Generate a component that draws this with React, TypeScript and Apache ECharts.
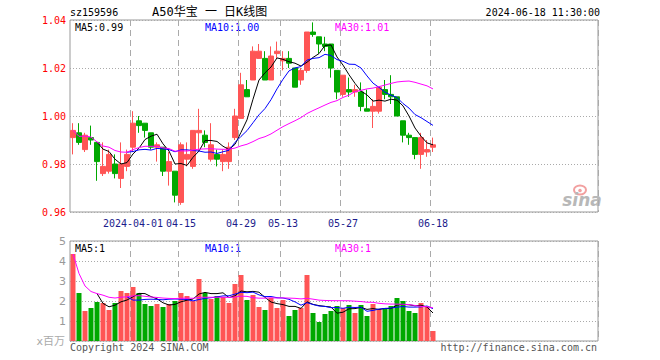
import React, { useEffect, useRef } from "react";
import * as echarts from "echarts";

const dates = [
  "2024-03-18","2024-03-19","2024-03-20","2024-03-21","2024-03-22","2024-03-25","2024-03-26","2024-03-27","2024-03-28","2024-03-29",
  "2024-04-01","2024-04-02","2024-04-03","2024-04-08","2024-04-09","2024-04-10","2024-04-11","2024-04-12","2024-04-15","2024-04-16",
  "2024-04-17","2024-04-18","2024-04-19","2024-04-22","2024-04-23","2024-04-24","2024-04-25","2024-04-26","2024-04-29","2024-04-30",
  "2024-05-06","2024-05-07","2024-05-08","2024-05-09","2024-05-10","2024-05-13","2024-05-14","2024-05-15","2024-05-16","2024-05-17",
  "2024-05-20","2024-05-21","2024-05-22","2024-05-23","2024-05-24","2024-05-27","2024-05-28","2024-05-29","2024-05-30","2024-05-31",
  "2024-06-03","2024-06-04","2024-06-05","2024-06-06","2024-06-07","2024-06-11","2024-06-12","2024-06-13","2024-06-14","2024-06-17","2024-06-18",
];

const opens = [
  0.991, 0.993, 0.986, 0.991, 0.989, 0.976, 0.977, 0.980, 0.974, 0.979,
  0.987, 0.998, 0.997, 0.993, 0.987, 0.987, 0.977, 0.977, 0.964, 0.982,
  0.979, 0.993, 0.992, 0.982, 0.984, 0.981, 0.981, 0.991, 0.999, 1.011,
  1.015, 1.024, 1.024, 1.015, 1.026, 1.023, 1.024, 1.020, 1.015, 1.019,
  1.035, 1.033, 1.030, 1.030, 1.019, 1.009, 1.011, 1.010, 1.010, 1.003,
  1.002, 1.002, 1.011, 1.009, 1.008, 0.998, 0.992, 0.991, 0.984, 0.985, 0.987,
];
const closes = [
  0.994, 0.989, 0.992, 0.990, 0.981, 0.979, 0.984, 0.976, 0.980, 0.984,
  0.997, 0.996, 0.994, 0.987, 0.988, 0.977, 0.981, 0.967, 0.988, 0.984,
  0.994, 0.994, 0.989, 0.988, 0.982, 0.984, 0.987, 1.000, 1.013, 1.008,
  1.027, 1.027, 1.015, 1.025, 1.027, 1.024, 1.022, 1.012, 1.019, 1.035,
  1.034, 1.030, 1.029, 1.020, 1.010, 1.017, 1.010, 1.011, 1.004, 1.002,
  1.004, 1.012, 1.009, 1.008, 1.000, 0.992, 0.991, 0.984, 0.991, 0.986, 0.988,
];
const highs = [
  0.997, 0.997, 0.993, 0.996, 0.989, 0.989, 0.986, 0.984, 0.989, 0.986,
  1.002, 1.000, 0.997, 0.993, 0.989, 0.987, 0.985, 0.977, 0.989, 0.989,
  0.994, 1.003, 0.994, 0.997, 0.986, 0.986, 0.989, 1.003, 1.018, 1.015,
  1.029, 1.030, 1.027, 1.029, 1.031, 1.027, 1.027, 1.020, 1.020, 1.035,
  1.039, 1.033, 1.033, 1.030, 1.019, 1.017, 1.016, 1.013, 1.014, 1.011,
  1.007, 1.012, 1.015, 1.017, 1.008, 0.998, 0.993, 0.991, 0.993, 0.990, 0.991,
];
const lows = [
  0.984, 0.988, 0.985, 0.988, 0.973, 0.975, 0.976, 0.974, 0.970, 0.977,
  0.985, 0.993, 0.991, 0.986, 0.981, 0.975, 0.971, 0.964, 0.963, 0.979,
  0.978, 0.985, 0.987, 0.981, 0.979, 0.977, 0.978, 0.990, 0.999, 1.008,
  1.015, 1.024, 1.015, 1.015, 1.024, 1.019, 1.020, 1.012, 1.013, 1.018,
  1.033, 1.026, 1.027, 1.016, 1.007, 1.008, 1.008, 1.008, 1.002, 1.002,
  0.995, 1.001, 1.007, 1.005, 1.000, 0.989, 0.988, 0.982, 0.978, 0.983, 0.985,
];
// volume in millions
const volumes = [
  4.35, 2.4, 1.5, 1.65, 1.95, 1.9, 1.55, 1.9, 2.5, 2.4,
  2.7, 2.4, 1.85, 1.75, 1.85, 1.7, 1.85, 2.0, 2.4, 2.25,
  2.0, 3.1, 2.4, 2.1, 2.25, 2.2, 1.9, 2.85, 3.3, 2.05,
  2.3, 1.7, 1.55, 2.15, 1.65, 2.05, 1.25, 1.55, 1.65, 3.3,
  1.4, 0.95, 1.35, 1.5, 1.75, 1.65, 1.8, 1.4, 1.8, 1.25,
  1.85, 1.6, 1.65, 1.75, 2.15, 2.0, 1.5, 1.4, 1.9, 1.7, 0.5,
];

const tickDates = ["2024-04-01", "2024-04-15", "2024-04-29", "2024-05-13", "2024-05-27", "2024-06-18"];
const tickLabels = ["2024-04-01", "04-15", "04-29", "05-13", "05-27", "06-18"];
const priceTicks = [0.96, 0.98, 1.0, 1.02, 1.04];
const volTicks = [0, 1, 2, 3, 4, 5];

const stockCode = "sz159596";
const chartTitle = "A50华宝 一 日K线图";
const timeStamp = "2024-06-18 11:30:00";
const priceMaLabels = ["MA5:0.99", "MA10:1.00", "MA30:1.01"];
const volMaLabels = ["MA5:1", "MA10:1", "MA30:1"];
const volUnit = "x百万";
const copyright = "Copyright 2024 SINA.COM";
const siteUrl = "http://finance.sina.com.cn";

const TOTAL_SLOTS = 88;
const RED = "#ff5555";
const GREEN = "#00a800";
const MONO = '"DejaVu Sans Mono", "Noto Sans CJK SC", monospace';

function movingAvg(arr: number[], n: number, expanding: boolean) {
  const out: (number | string)[] = [];
  for (let i = 0; i < arr.length; i++) {
    if (i < n - 1 && !expanding) {
      out.push("-");
      continue;
    }
    const s = Math.max(0, i - n + 1);
    let sum = 0;
    for (let j = s; j <= i; j++) sum += arr[j];
    out.push(+(sum / (i - s + 1)).toFixed(5));
  }
  return out;
}

export default function App() {
  const ref = useRef<HTMLDivElement>(null);
  useEffect(() => {
    if (!ref.current) return;
    const chart = echarts.init(ref.current, undefined, { renderer: "svg" });
    const cats = dates.slice();
    for (let i = dates.length; i < TOTAL_SLOTS; i++) cats.push("pad" + i);
    const tickIdx = tickDates.map((d) => dates.indexOf(d));
    const labelOf: Record<string, string> = {};
    tickDates.forEach((d, i) => (labelOf[d] = tickLabels[i]));
    const showIdx = (idx: number) => tickIdx.indexOf(idx) >= 0;

    const kData = dates.map((_, i) => [opens[i], closes[i], lows[i], highs[i]]);
    const volData = volumes.map((v, i) => ({
      value: v,
      itemStyle: { color: closes[i] >= opens[i] ? RED : GREEN },
    }));

    const xBase = (gridIndex: number) => ({
      type: "category" as const,
      gridIndex,
      data: cats,
      boundaryGap: true,
      axisLine: { show: false },
      axisTick: { show: false },
      axisLabel: {
        show: gridIndex === 0,
        interval: (idx: number) => showIdx(idx),
        formatter: (v: string) => labelOf[v] || "",
        color: "#1c1c8c",
        fontFamily: MONO,
        fontSize: 10,
        margin: 6,
      },
      splitLine: {
        show: true,
        interval: (idx: number) => showIdx(idx),
        lineStyle: { color: "#aaaaaa", type: [6, 4], width: 1 },
      },
    });

    const lineSeries = (data: any[], color: string, xi: number) => ({
      type: "line",
      xAxisIndex: xi,
      yAxisIndex: xi,
      data,
      symbol: "none",
      showSymbol: false,
      lineStyle: { color, width: 1 },
      itemStyle: { color },
      silent: true,
    });

    const txt = (text: string, x: number, y: number, fill: string, align = "left", font = `10px ${MONO}`) => ({
      type: "text",
      x,
      y,
      silent: true,
      style: { text, fill, font, align, textAlign: align, verticalAlign: "middle", textVerticalAlign: "middle" },
    });

    chart.setOption({
      animation: false,
      backgroundColor: "#ffffff",
      grid: [
        { left: 70, top: 20, width: 528, height: 192, show: true, borderColor: "#999999", borderWidth: 1, backgroundColor: "transparent" },
        { left: 70, top: 241, width: 528, height: 100, show: true, borderColor: "#999999", borderWidth: 1, backgroundColor: "transparent" },
      ],
      xAxis: [xBase(0), xBase(1)],
      yAxis: [
        {
          type: "value",
          gridIndex: 0,
          min: priceTicks[0],
          max: priceTicks[priceTicks.length - 1],
          interval: 0.02,
          axisLine: { show: false },
          axisTick: { show: false },
          axisLabel: { color: "#ff0000", fontFamily: MONO, fontSize: 10, margin: 4, formatter: (v: number) => v.toFixed(2) },
          splitLine: { show: true, lineStyle: { color: "#aaaaaa", type: [1, 2] } },
        },
        {
          type: "value",
          gridIndex: 1,
          min: volTicks[0],
          max: volTicks[volTicks.length - 1],
          interval: 1,
          axisLine: { show: false },
          axisTick: { show: false },
          axisLabel: {
            color: "#999999",
            fontFamily: '"DejaVu Sans", sans-serif',
            fontSize: 11,
            margin: 4,
            formatter: (v: number) => (v === 0 ? "" : String(v)),
          },
          splitLine: { show: true, lineStyle: { color: "#aaaaaa", type: [1, 2] } },
        },
      ],
      series: [
        {
          type: "candlestick",
          xAxisIndex: 0,
          yAxisIndex: 0,
          data: kData,
          barWidth: 5,
          itemStyle: { color: RED, color0: GREEN, borderColor: RED, borderColor0: GREEN, borderWidth: 1 },
          silent: true,
        },
        lineSeries(movingAvg(closes, 5, false), "#000000", 0),
        lineSeries(movingAvg(closes, 10, false), "#0000ff", 0),
        lineSeries(movingAvg(closes, 30, true), "#ff00ff", 0),
        {
          type: "bar",
          xAxisIndex: 1,
          yAxisIndex: 1,
          data: volData,
          barWidth: 5,
          silent: true,
        },
        lineSeries(movingAvg(volumes, 5, false), "#000000", 1),
        lineSeries(movingAvg(volumes, 10, false), "#0000ff", 1),
        lineSeries(movingAvg(volumes, 30, true), "#ff00ff", 1),
      ],
      graphic: [
        txt(stockCode, 70, 12, "#000000"),
        txt(chartTitle, 152, 12, "#000000", "left", `12px ${MONO}`),
        txt(timeStamp, 600, 12, "#000000", "right"),
        txt(priceMaLabels[0], 75, 27, "#000000"),
        txt(priceMaLabels[1], 205, 27, "#0000ff"),
        txt(priceMaLabels[2], 335, 27, "#ff00ff"),
        txt(volMaLabels[0], 75, 248, "#000000"),
        txt(volMaLabels[1], 205, 248, "#0000ff"),
        txt(volMaLabels[2], 335, 248, "#ff00ff"),
        txt(volUnit, 65, 341, "#aaaaaa", "right", '11px "DejaVu Sans", "Noto Sans CJK SC", sans-serif'),
        txt(copyright, 70, 347, "#555555"),
        txt(siteUrl, 597, 347, "#555555", "right"),
        {
          type: "ellipse",
          silent: true,
          shape: { cx: 580, cy: 190, rx: 6, ry: 4.5 },
          style: { fill: "none", stroke: "#f2a0a0", lineWidth: 2 },
        },
        {
          type: "circle",
          silent: true,
          shape: { cx: 580, cy: 190.5, r: 1.8 },
          style: { fill: "#f2a0a0" },
        },
        txt("sina", 582, 200, "#b8b8b8", "center", 'italic bold 17px "DejaVu Sans", sans-serif'),
      ],
    });
    return () => chart.dispose();
  }, []);
  return (
    <div
      ref={ref}
      style={{ position: "fixed", left: 0, top: 0, width: 660, height: 360, background: "#fff" }}
    />
  );
}
